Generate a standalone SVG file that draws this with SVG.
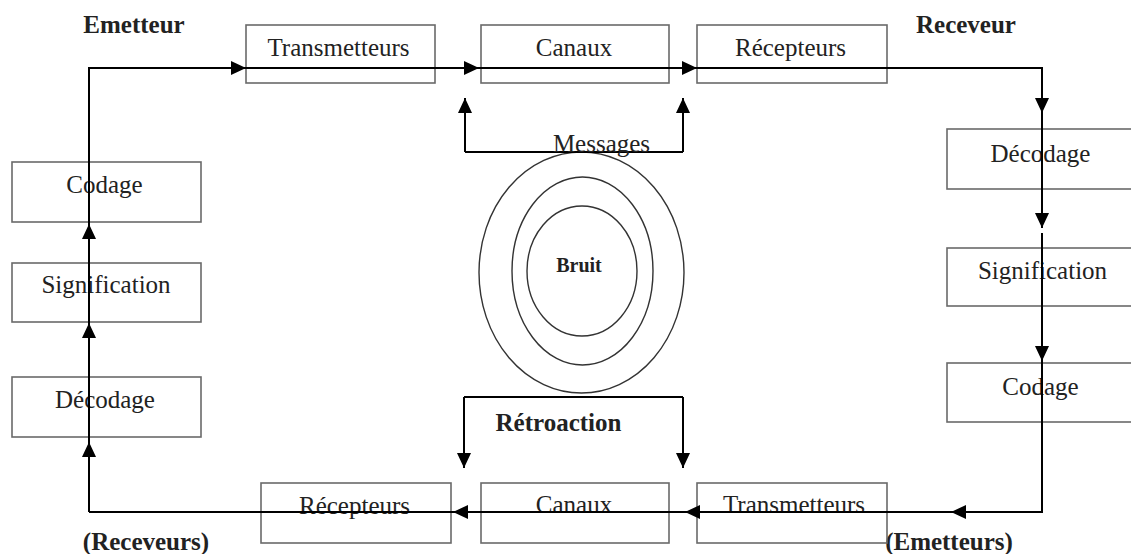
<svg xmlns="http://www.w3.org/2000/svg" width="1131" height="554" viewBox="0 0 1131 554">
<defs>
<style>
.box{fill:none;stroke:#6a6a6a;stroke-width:1.6}
.t{font-family:"Liberation Serif","Times New Roman",serif;font-size:25px;fill:#222;text-anchor:middle}
.b{font-weight:bold}
.c{fill:none;stroke:#000;stroke-width:2}
.e{fill:none;stroke:#333;stroke-width:1.4}
</style>
<marker id="ah" markerUnits="userSpaceOnUse" markerWidth="16" markerHeight="16" refX="15" refY="7" orient="auto" viewBox="0 0 16 16">
<path d="M0,0 L15,7 L0,14 z" fill="#000"/>
</marker>
</defs>
<rect width="1131" height="554" fill="#fff"/>

<g id="labels">
<text class="t b" x="134" y="33">Emetteur</text>
<text class="t b" x="966" y="33">Receveur</text>
<text class="t b" x="146" y="550">(Receveurs)</text>
<text class="t b" x="949" y="550">(Emetteurs)</text>
</g>

<g id="n-transmetteurs-top"><rect class="box" x="246" y="25" width="189" height="58"/><text class="t" x="338.5" y="56">Transmetteurs</text></g>
<g id="n-canaux-top"><rect class="box" x="481" y="25" width="188" height="58"/><text class="t" x="574" y="56">Canaux</text></g>
<g id="n-recepteurs-top"><rect class="box" x="697" y="25" width="190" height="58"/><text class="t" x="790.5" y="56">Récepteurs</text></g>

<g id="n-codage-left"><rect class="box" x="12" y="162" width="189" height="60"/><text class="t" x="104.5" y="193">Codage</text></g>
<g id="n-signification-left"><rect class="box" x="12" y="263" width="189" height="59"/><text class="t" x="106" y="293">Signification</text></g>
<g id="n-decodage-left"><rect class="box" x="12" y="377" width="189" height="60"/><text class="t" x="105" y="408">Décodage</text></g>

<g id="n-decodage-right"><rect class="box" x="947" y="129" width="200" height="60"/><text class="t" x="1040.5" y="162">Décodage</text></g>
<g id="n-signification-right"><rect class="box" x="947" y="248" width="200" height="58"/><text class="t" x="1042.5" y="279">Signification</text></g>
<g id="n-codage-right"><rect class="box" x="947" y="363" width="200" height="59"/><text class="t" x="1040.5" y="395">Codage</text></g>

<g id="n-recepteurs-bottom"><rect class="box" x="261" y="483" width="190" height="60"/><text class="t" x="354.5" y="514">Récepteurs</text></g>
<g id="n-canaux-bottom"><rect class="box" x="481" y="483" width="188" height="60"/><text class="t" x="574" y="513">Canaux</text></g>
<g id="n-transmetteurs-bottom"><rect class="box" x="697" y="483" width="190" height="60"/><text class="t" x="794" y="513">Transmetteurs</text></g>

<g id="n-bruit">
<ellipse class="e" cx="581.5" cy="272.5" rx="102.5" ry="120.5"/>
<ellipse class="e" cx="582.5" cy="271" rx="70.5" ry="94"/>
<ellipse class="e" cx="582" cy="271" rx="55" ry="65"/>
<text class="t b" x="579" y="272" style="font-size:20px">Bruit</text>
</g>

<g id="connectors">
<path class="c" d="M89,512 L89,442" marker-end="url(#ah)"/>
<path class="c" d="M89,442 L89,323" marker-end="url(#ah)"/>
<path class="c" d="M89,323 L89,224" marker-end="url(#ah)"/>
<path class="c" d="M89,224 L89,68 L246,68" marker-end="url(#ah)"/>
<path class="c" d="M246,68 L479,68" marker-end="url(#ah)"/>
<path class="c" d="M479,68 L697,68" marker-end="url(#ah)"/>
<path class="c" d="M697,68 L1042,68 L1042,113" marker-end="url(#ah)"/>
<path class="c" d="M1042,113 L1042,228" marker-end="url(#ah)"/>
<path class="c" d="M1042,233 L1042,361" marker-end="url(#ah)"/>
<path class="c" d="M1042,361 L1042,512 L951,512" marker-end="url(#ah)"/>
<path class="c" d="M951,512 L685,512" marker-end="url(#ah)"/>
<path class="c" d="M685,512 L453,512" marker-end="url(#ah)"/>
<path class="c" d="M453,512 L89,512"/>
<path class="c" d="M465,152 L683,152"/>
<path class="c" d="M465,152 L465,98" marker-end="url(#ah)"/>
<path class="c" d="M683,152 L683,98" marker-end="url(#ah)"/>
<path class="c" d="M464,397 L683,397"/>
<path class="c" d="M464,397 L464,468" marker-end="url(#ah)"/>
<path class="c" d="M683,397 L683,468" marker-end="url(#ah)"/>
</g>

<g id="annotations">
<text class="t" x="601.5" y="152">Messages</text>
<text class="t b" x="558.5" y="431">Rétroaction</text>
</g>
</svg>
